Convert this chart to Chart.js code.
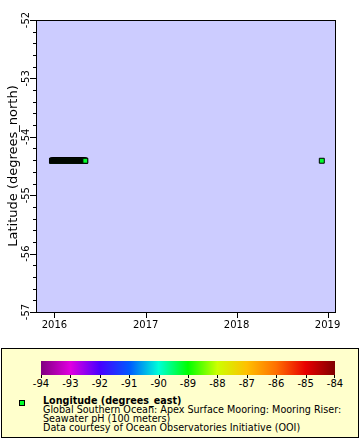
<!DOCTYPE html>
<html><head><meta charset="utf-8">
<script src="https://cdn.jsdelivr.net/npm/chart.js@4.4.1/dist/chart.umd.min.js"></script>
<style>
html,body{margin:0;padding:0;background:#fff;}
body{width:360px;height:440px;position:relative;overflow:hidden;font-family:"DejaVu Sans",sans-serif;color:#000;}
#wrap{position:absolute;left:0;top:0;width:360px;height:345px;}
#legend{position:absolute;left:1px;top:348px;width:356px;height:88px;border:1px solid #000;background:#ffffcc;}
#cbar{position:absolute;left:39px;top:12px;width:294px;height:14px;}
.cl{position:absolute;top:29px;font-size:10px;transform:translateX(-50%);white-space:nowrap;}
.ct{position:absolute;top:26px;width:1px;height:3px;background:#000;}
#mk{position:absolute;left:17px;top:51px;width:4px;height:4px;border:1px solid #000;}
#txt{position:absolute;left:41px;top:47px;font-size:9.6px;line-height:9.1px;white-space:nowrap;}
#txt b{font-weight:bold;}
</style></head>
<body>
<div id="wrap"><canvas id="c" width="360" height="345"></canvas></div>
<div id="legend">
  <div id="cbar"></div>
  <div id="mk"></div>
  <div id="txt"><b>Longitude (degrees_east)</b><br>Global Southern Ocean: Apex Surface Mooring: Mooring Riser:<br>Seawater pH (100 meters)<br>Data courtesy of Ocean Observatories Initiative (OOI)</div>
</div>
<script>
// ---- data: deployment 1 (daily samples) ----
const dep1Dates = [
 '2015-12-22','2015-12-23','2015-12-24','2015-12-25','2015-12-26','2015-12-27','2015-12-28','2015-12-29','2015-12-30','2015-12-31',
 '2016-01-01','2016-01-02','2016-01-03','2016-01-04','2016-01-05','2016-01-06','2016-01-07','2016-01-08','2016-01-09','2016-01-10',
 '2016-01-11','2016-01-12','2016-01-13','2016-01-14','2016-01-15','2016-01-16','2016-01-17','2016-01-18','2016-01-19','2016-01-20',
 '2016-01-21','2016-01-22','2016-01-23','2016-01-24','2016-01-25','2016-01-26','2016-01-27','2016-01-28','2016-01-29','2016-01-30','2016-01-31',
 '2016-02-01','2016-02-02','2016-02-03','2016-02-04','2016-02-05','2016-02-06','2016-02-07','2016-02-08','2016-02-09','2016-02-10',
 '2016-02-11','2016-02-12','2016-02-13','2016-02-14','2016-02-15','2016-02-16','2016-02-17','2016-02-18','2016-02-19','2016-02-20',
 '2016-02-21','2016-02-22','2016-02-23','2016-02-24','2016-02-25','2016-02-26','2016-02-27','2016-02-28','2016-02-29',
 '2016-03-01','2016-03-02','2016-03-03','2016-03-04','2016-03-05','2016-03-06','2016-03-07','2016-03-08','2016-03-09','2016-03-10',
 '2016-03-11','2016-03-12','2016-03-13','2016-03-14','2016-03-15','2016-03-16','2016-03-17','2016-03-18','2016-03-19','2016-03-20',
 '2016-03-21','2016-03-22','2016-03-23','2016-03-24','2016-03-25','2016-03-26','2016-03-27','2016-03-28','2016-03-29','2016-03-30','2016-03-31',
 '2016-04-01','2016-04-02','2016-04-03','2016-04-04','2016-04-05','2016-04-06','2016-04-07','2016-04-08','2016-04-09','2016-04-10',
 '2016-04-11','2016-04-12','2016-04-13','2016-04-14','2016-04-15','2016-04-16','2016-04-17','2016-04-18','2016-04-19','2016-04-20',
 '2016-04-21','2016-04-22','2016-04-23','2016-04-24','2016-04-25','2016-04-26','2016-04-27','2016-04-28','2016-04-29','2016-04-30',
 '2016-05-01','2016-05-02','2016-05-03','2016-05-04'
];
const dep1Lat = -54.41;   // degrees_north
const dep1Lon = -89.2;    // degrees_east
// ---- data: deployment 2 (single sample) ----
const dep2Dates = ['2018-12-09'];
const dep2Lat = -54.41;
const dep2Lon = -89.2;

const xRange = ['2015-10-19','2019-01-31'];
const yearTickDates = ['2016-01-01','2017-01-01','2018-01-01','2019-01-01'];
const yearTickLabels = ['2016','2017','2018','2019'];
const latMin = -57, latMax = -52, latMinorStep = 0.2;
const colorTicks = [-94,-93,-92,-91,-90,-89,-88,-87,-86,-85,-84];
const colorStops = ['#800080','#e000e0','#4800ff','#0058ff','#00ffd8','#00ff00','#ccff00','#ffc000','#ff7000','#e80000','#800000'];

// ---- helpers ----
function hexToRgb(h){return [parseInt(h.slice(1,3),16),parseInt(h.slice(3,5),16),parseInt(h.slice(5,7),16)];}
function lonColor(v){
  const lo=colorTicks[0], hi=colorTicks[colorTicks.length-1];
  let t=(v-lo)/(hi-lo)*(colorStops.length-1);
  t=Math.max(0,Math.min(colorStops.length-1,t));
  const i=Math.min(Math.floor(t),colorStops.length-2), f=t-i;
  const a=hexToRgb(colorStops[i]), b=hexToRgb(colorStops[i+1]);
  const c=a.map((x,k)=>Math.round(x+(b[k]-x)*f));
  return 'rgb('+c.join(',')+')';
}
const toMs = s => Date.parse(s);

// ---- colour bar legend ----
const cbar=document.getElementById('cbar');
cbar.style.background='linear-gradient(to right,'+colorStops.map((c,i)=>c+' '+(i*100/(colorStops.length-1))+'%').join(',')+')';
const leg=document.getElementById('legend');
colorTicks.forEach((v,i)=>{
  const x=39+i*294/(colorTicks.length-1);
  const t=document.createElement('div'); t.className='ct'; t.style.left=(Math.round(x)-(i===colorTicks.length-1?1:0))+'px'; leg.appendChild(t);
  const l=document.createElement('div'); l.className='cl'; l.style.left=x+'px'; l.textContent=String(v); leg.appendChild(l);
});
document.getElementById('mk').style.background=lonColor(dep2Lon);

// ---- chart ----
Chart.defaults.font.family='"DejaVu Sans", sans-serif';
Chart.defaults.color='#000';

const points=[
  ...dep1Dates.map(d=>({x:toMs(d),y:dep1Lat,lon:dep1Lon})),
  ...dep2Dates.map(d=>({x:toMs(d),y:dep2Lat,lon:dep2Lon}))
];
const yearVals=yearTickDates.map(toMs);

const framePlugin={
  id:'frame',
  beforeDraw(chart){
    const a=chart.chartArea, ctx=chart.ctx;
    ctx.save(); ctx.fillStyle='#ccccff';
    ctx.fillRect(a.left,a.top,a.right-a.left,a.bottom-a.top);
    ctx.restore();
  },
  afterDraw(chart){
    const a=chart.chartArea, ctx=chart.ctx;
    const xs=chart.scales.x, ys=chart.scales.y;
    ctx.save();
    ctx.strokeStyle='#000'; ctx.lineWidth=1;
    ctx.strokeRect(a.left+0.5,a.top+0.5,a.right-a.left,a.bottom-a.top);
    ctx.beginPath();
    ys.ticks.forEach(t=>{
      const y=Math.round(ys.getPixelForValue(t.value))+0.5;
      const major=Math.abs(t.value-Math.round(t.value))<1e-6;
      ctx.moveTo(a.left-(major?6:3),y); ctx.lineTo(a.left,y);
    });
    xs.ticks.forEach(t=>{
      const x=Math.round(xs.getPixelForValue(t.value))+0.5;
      ctx.moveTo(x,a.bottom); ctx.lineTo(x,a.bottom+6);
    });
    ctx.stroke();
    ctx.restore();
  }
};

new Chart(document.getElementById('c'),{
  type:'scatter',
  data:{datasets:[{
    data:points,
    pointStyle:'rect',
    pointRadius:3.5,
    pointHoverRadius:3.5,
    pointBorderWidth:1,
    pointBorderColor:'#000',
    pointBackgroundColor:ctx=>lonColor(points[ctx.dataIndex].lon),
    showLine:false
  }]},
  options:{
    responsive:false,
    animation:false,
    events:[],
    layout:{padding:{left:0,right:25,top:20,bottom:0}},
    plugins:{legend:{display:false},tooltip:{enabled:false}},
    scales:{
      x:{
        type:'linear',
        min:toMs(xRange[0]),max:toMs(xRange[1]),
        grid:{display:false,drawTicks:false},border:{display:false},
        afterBuildTicks:s=>{s.ticks=yearVals.map(v=>({value:v}));},
        afterFit:s=>{s.height=33;},
        ticks:{autoSkip:false,maxRotation:0,minRotation:0,padding:7,font:{size:10},color:'#000',
          callback:v=>{const i=yearVals.indexOf(v);return i>=0?yearTickLabels[i]:'';}}
      },
      y:{
        type:'linear',
        min:latMin,max:latMax,
        grid:{display:false,drawTicks:false},border:{display:false},
        afterFit:s=>{s.width=36;},
        title:{display:true,text:'Latitude (degrees_north)',font:{size:13},color:'#000',padding:{top:6,bottom:0}},
        ticks:{stepSize:latMinorStep,autoSkip:false,minRotation:90,maxRotation:90,crossAlign:'center',padding:1,font:{size:10},color:'#000',
          callback:v=>Math.abs(v-Math.round(v))<1e-6?String(Math.round(v)):''}
      }
    }
  },
  plugins:[framePlugin]
});
</script>
</body></html>
